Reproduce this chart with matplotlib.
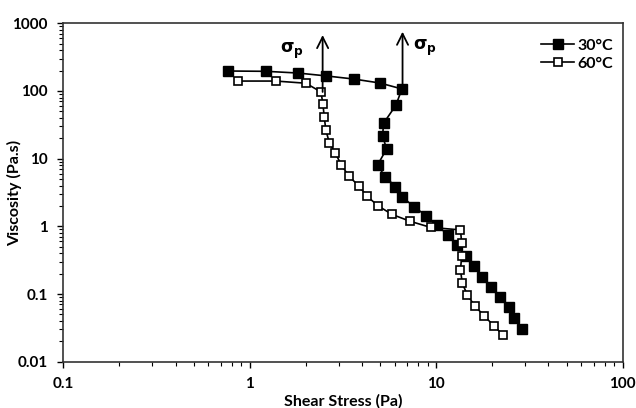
import matplotlib
matplotlib.use("Agg")
import matplotlib.pyplot as plt
from matplotlib.ticker import LogLocator, FixedLocator, FixedFormatter, NullFormatter

plt.rcParams["font.family"] = ["Lato", "DejaVu Sans"]
plt.rcParams["font.weight"] = "bold"

# 30°C series (filled squares)
stress_30 = [0.764, 1.22, 1.81, 2.56, 3.61, 4.99, 6.55, 6.08, 5.22, 5.16, 5.42, 4.85,
             5.31, 6.05, 6.55, 7.59, 8.83, 10.1, 11.5, 12.97, 14.4, 15.9, 17.7, 19.6,
             22.0, 24.5, 26.3, 29.0]
visc_30 = [197, 195, 184, 167, 150, 131, 107, 61.5, 33.3, 21.6, 13.9, 8.07,
           5.42, 3.86, 2.75, 1.95, 1.44, 1.04, 0.754, 0.531, 0.365, 0.260, 0.181, 0.126,
           0.0897, 0.0638, 0.0444, 0.0305]

# 60°C series (open squares)
stress_60 = [0.868, 1.38, 2.00, 2.41, 2.47, 2.51, 2.56, 2.67, 2.88, 3.10, 3.41, 3.85,
             4.27, 4.89, 5.79, 7.23, 9.33, 13.5, 13.7, 13.7, 13.5, 13.8, 14.7, 16.1,
             18.1, 20.4, 22.9]
visc_60 = [140, 140, 130, 96.7, 63.6, 40.9, 26.5, 17.3, 12.0, 8.07, 5.46, 3.95,
           2.76, 2.00, 1.50, 1.19, 0.964, 0.885, 0.562, 0.366, 0.227, 0.144, 0.097, 0.0667,
           0.0475, 0.0338, 0.0246]

# yield stress arrows: (x, y_start, y_end) and label positions
arrow_x = [2.46, 6.6]
arrow_y0 = [96.7, 107]
arrow_y1 = [670, 750]
label_x = [1.68, 8.69]
label_y = [385, 435]

xticks = [0.1, 1, 10, 100]
xtick_labels = ["0.1", "1", "10", "100"]
yticks = [0.01, 0.1, 1, 10, 100, 1000]
ytick_labels = ["0.01", "0.1", "1", "10", "100", "1000"]

fig = plt.figure(figsize=(6.36, 4.08), dpi=100)
ax = fig.add_axes([0.0995, 0.1135, 0.8795, 0.8295])

ax.plot(stress_30, visc_30, "-", color="black", lw=1.2, marker="s", ms=7,
        mfc="black", mec="black", label="30°C")
ax.plot(stress_60, visc_60, "-", color="black", lw=1.2, marker="s", ms=6,
        mfc="white", mec="black", mew=1.2, label="60°C")

for x, y0, y1 in zip(arrow_x, arrow_y0, arrow_y1):
    ax.annotate("", xy=(x, y1), xytext=(x, y0),
                arrowprops=dict(arrowstyle="->", color="black", lw=1.3,
                                mutation_scale=20, shrinkA=0, shrinkB=0))
for x, y in zip(label_x, label_y):
    ax.text(x, y, r"$\mathbf{\sigma_p}$", ha="center", va="center", fontsize=12.5)

ax.set_xscale("log")
ax.set_yscale("log")
ax.set_xlim(0.1, 100)
ax.set_ylim(0.01, 1000)

ax.xaxis.set_major_locator(FixedLocator(xticks))
ax.xaxis.set_major_formatter(FixedFormatter(xtick_labels))
ax.yaxis.set_major_locator(FixedLocator(yticks))
ax.yaxis.set_major_formatter(FixedFormatter(ytick_labels))
ax.xaxis.set_minor_locator(LogLocator(base=10, subs=range(2, 10)))
ax.yaxis.set_minor_locator(LogLocator(base=10, subs=range(2, 10)))
ax.xaxis.set_minor_formatter(NullFormatter())
ax.yaxis.set_minor_formatter(NullFormatter())

ax.tick_params(which="major", direction="out", length=4, width=1, labelsize=11)
ax.tick_params(which="minor", direction="out", length=3, width=0.8)
ax.tick_params(axis="y", which="major", pad=7)
ax.tick_params(axis="x", which="major", pad=7)
for lab in ax.get_xticklabels() + ax.get_yticklabels():
    lab.set_fontweight("bold")

for s in ax.spines.values():
    s.set_color("#333333")
    s.set_linewidth(1.2)

ax.set_xlabel("Shear Stress (Pa)", fontsize=11.5, fontweight="bold")
ax.xaxis.set_label_coords(0.5, -0.097)
ax.set_ylabel("Viscosity (Pa.s)", fontsize=11.5, fontweight="bold")
ax.yaxis.set_label_coords(-0.074, 0.5)

leg = ax.legend(loc="upper right", bbox_to_anchor=(0.983, 0.955), frameon=False,
                fontsize=11.5, handlelength=2.1, handletextpad=0.2, labelspacing=0.25,
                borderpad=0, borderaxespad=0)
for t in leg.get_texts():
    t.set_fontweight("bold")

fig.savefig("out.png", dpi=100)
